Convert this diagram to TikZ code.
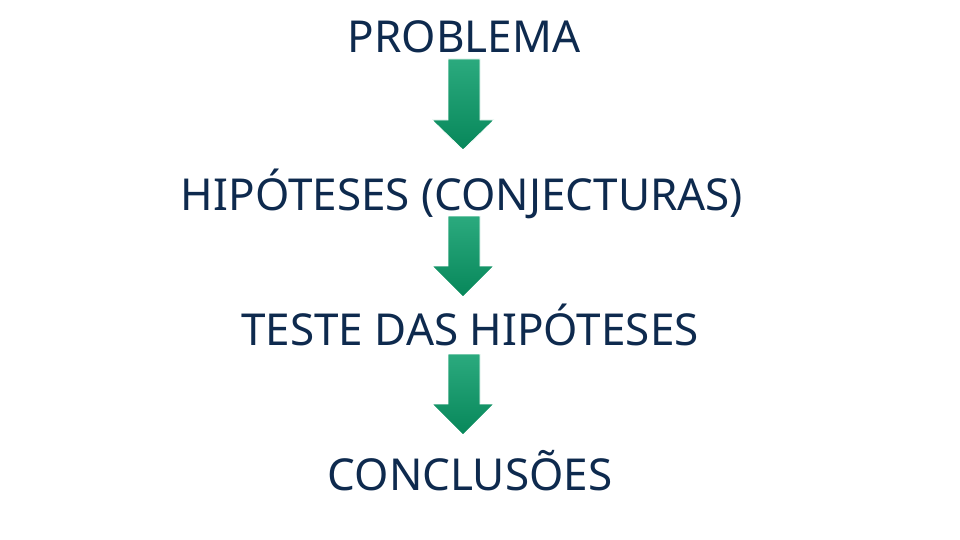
\documentclass[tikz,border=0pt]{standalone}
\usepackage{fontspec}
\setmainfont{Noto Sans}
\definecolor{navy}{HTML}{0E2A4E}
\definecolor{gtop}{HTML}{2BAA7E}
\definecolor{gbot}{HTML}{07875A}
\tikzset{lbl/.style={text=navy,font=\fontsize{44}{46}\selectfont,inner sep=0pt,anchor=base},
 garrow/.style={top color=gtop,bottom color=gbot,draw=white,line width=0.8pt}}
\newcommand{\greenarrow}[3]{%
 \path[garrow] (448,-#1) -- (480,-#1) -- (480,-#2) -- (494,-#2) -- (463,-#3) -- (432,-#2) -- (448,-#2) -- cycle;}
\begin{document}
\begin{tikzpicture}[x=1pt,y=1pt]
\useasboundingbox (0,0) rectangle (960,-540);
\node[lbl] (p) at (464,-53) {PROBLEMA};
\node[lbl] (h) at (462,-210) {HIPÓTESES (CONJECTURAS)};
\node[lbl] (t) at (470,-345) {TESTE DAS HIPÓTESES};
\node[lbl] (c) at (470,-490) {CONCLUSÕES};
\greenarrow{59}{120}{150}
\greenarrow{216}{266}{297}
\greenarrow{354}{404}{435}
\end{tikzpicture}
\end{document}
